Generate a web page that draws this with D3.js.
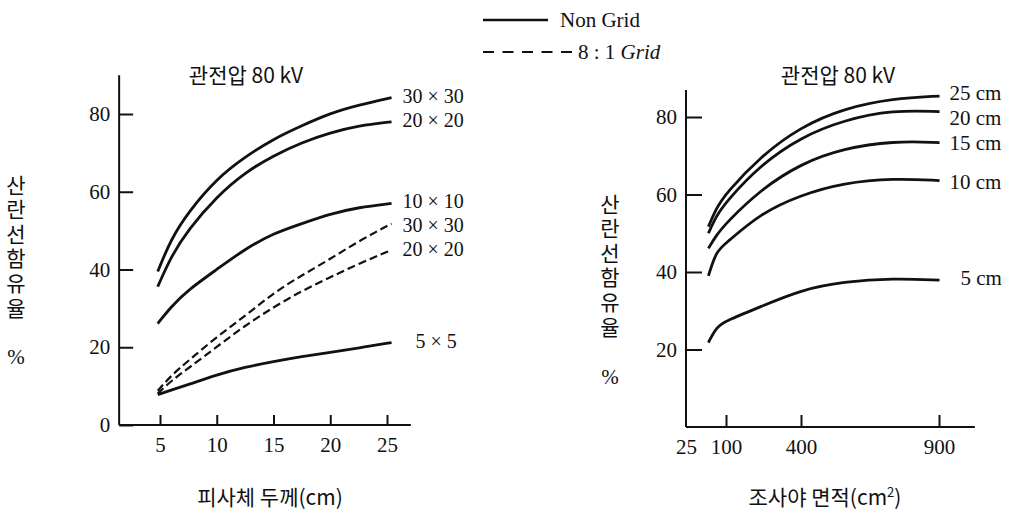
<!DOCTYPE html>
<html>
<head>
<meta charset="utf-8">
<script src="https://cdn.jsdelivr.net/npm/d3@7"></script>
<style>
body { margin: 0; background: #fff; }
text { font-family: "Liberation Serif", "Times New Roman", serif; fill: #111; }
.kr { font-family: "Noto Sans CJK KR", sans-serif; }
</style>
</head>
<body>
<svg id="chart" width="1009" height="511"></svg>
<script>
// left panel: scatter content vs phantom thickness (cm)
var thickness = [4.8, 6, 7.5, 10, 12.5, 15, 17.5, 20, 22.5, 25.4];
var solid30 = [39.5, 48, 54.8, 63.4, 69, 73.6, 77, 80.2, 82.3, 84.2];
var solid20 = [35.6, 43.5, 50.3, 58.8, 65, 69.3, 72.7, 75.2, 77, 78];
var solid10 = [26.1, 30.5, 34.8, 40, 45.3, 49.3, 51.8, 54.3, 56, 57];
var grid30 = [8.8, 12.8, 16.5, 22.7, 28, 34, 38.5, 42.7, 47.3, 51.8];
var grid20 = [8.1, 11.4, 14.6, 20.1, 25.6, 30.3, 34.5, 38, 41.5, 45];
var solid5 = [7.8, 9, 10.4, 12.9, 14.9, 16.3, 17.6, 18.7, 19.8, 21.2];
var leftLabels = ["30 × 30", "20 × 20", "10 × 10", "30 × 30", "20 × 20", "5 × 5"];
var leftXTicks = [5, 10, 15, 20, 25];
var leftYTicks = [0, 20, 40, 60, 80];

// right panel: scatter content vs field area (cm2), by thickness
var fieldArea = [67, 82, 100, 237, 400, 554, 734, 902];
var depth25 = [51.7, 56.5, 60.3, 69.8, 77.5, 82.2, 84.8, 85.4];
var depth20 = [50, 54.5, 58.1, 67.6, 74.8, 79.2, 81.8, 81.4];
var depth15 = [46.1, 49.5, 52.6, 61.2, 68, 71.9, 73.8, 73.4];
var depth10 = [39, 45.5, 47.4, 55.1, 59.9, 63, 64.2, 63.6];
var depth5 = [21.8, 25.8, 27.4, 31, 35.4, 37.5, 38.4, 37.9];
var rightLabels = ["25 cm", "20 cm", "15 cm", "10 cm", "5 cm"];
var rightXTicks = [25, 100, 400, 900];
var rightYTicks = [20, 40, 60, 80];

var yTitle = "산란선함유율";

var svg = d3.select("#chart");

var line = d3.line()
    .curve(d3.curveBasis);

// ---------- left panel ----------
var xL = d3.scaleLinear().domain([5, 25]).range([160, 387]);
var yL = d3.scaleLinear().domain([0, 80]).range([425, 114]);

var left = svg.append("g");

left.append("line")
    .attr("x1", xL(1.4)).attr("x2", xL(1.4))
    .attr("y1", yL(90)).attr("y2", yL(0))
    .attr("stroke", "#111").attr("stroke-width", 2);
left.append("line")
    .attr("x1", xL(1.4)).attr("x2", xL(27.1))
    .attr("y1", yL(0)).attr("y2", yL(0))
    .attr("stroke", "#111").attr("stroke-width", 2);

var lyAxis = left.append("g")
    .attr("transform", "translate(" + xL(1.4) + ",0)")
    .call(d3.axisLeft(yL).tickValues(leftYTicks).tickSizeInner(-14).tickSizeOuter(0).tickPadding(9));
var lxAxis = left.append("g")
    .attr("transform", "translate(0," + yL(0) + ")")
    .call(d3.axisBottom(xL).tickValues(leftXTicks).tickSizeInner(-10).tickSizeOuter(0).tickPadding(12));

var leftSeries = [solid30, solid20, solid10, grid30, grid20, solid5];
var leftDashed = [false, false, false, true, true, false];
var leftNudge = [-1.3, -2, -2.4, 1, -1, -2];

leftSeries.forEach(function(vals, i) {
    var pts = thickness.map(function(t, j) { return [xL(t), yL(vals[j])]; });
    left.append("path")
        .attr("d", line(pts))
        .attr("fill", "none")
        .attr("stroke", "#111")
        .attr("stroke-width", leftDashed[i] ? 2.2 : 2.8)
        .attr("stroke-dasharray", leftDashed[i] ? "8,4" : null);
    left.append("text")
        .attr("x", xL(thickness[thickness.length - 1]) + (i == 5 ? 24 : 11))
        .attr("y", yL(vals[vals.length - 1]) + leftNudge[i])
        .attr("dy", "0.35em")
        .style("font-size", "20px")
        .text(leftLabels[i]);
});

left.append("text")
    .attr("class", "kr")
    .attr("x", 246).attr("y", 83)
    .attr("text-anchor", "middle")
    .style("font-size", "21px")
    .text("관전압 80 kV");

left.append("text")
    .attr("class", "kr")
    .attr("x", 270).attr("y", 505)
    .attr("text-anchor", "middle")
    .style("font-size", "21px")
    .text("피사체 두께(cm)");

// ---------- right panel ----------
var xR = d3.scaleLinear().domain([25, 100, 400, 900]).range([686, 726, 801, 939]);
var yR = d3.scaleLinear().domain([0, 80]).range([427, 117]);

var right = svg.append("g");

right.append("line")
    .attr("x1", xR(25)).attr("x2", xR(25))
    .attr("y1", yR(87)).attr("y2", yR(0))
    .attr("stroke", "#111").attr("stroke-width", 2);
right.append("line")
    .attr("x1", xR(25)).attr("x2", xR(1030))
    .attr("y1", yR(0)).attr("y2", yR(0))
    .attr("stroke", "#111").attr("stroke-width", 2);

var ryAxis = right.append("g")
    .attr("transform", "translate(" + xR(25) + ",0)")
    .call(d3.axisLeft(yR).tickValues(rightYTicks).tickSizeInner(-16).tickSizeOuter(0).tickPadding(9));
var rxAxis = right.append("g")
    .attr("transform", "translate(0," + yR(0) + ")")
    .call(d3.axisBottom(xR).tickValues(rightXTicks).tickSizeInner(-12).tickSizeOuter(0).tickPadding(12));

var rightSeries = [depth25, depth20, depth15, depth10, depth5];
var rightNudge = [-3, 6, 0, 1, -2];

rightSeries.forEach(function(vals, i) {
    var pts = fieldArea.map(function(a, j) { return [xR(a), yR(vals[j])]; });
    right.append("path")
        .attr("d", line(pts))
        .attr("fill", "none")
        .attr("stroke", "#111")
        .attr("stroke-width", 2.8);
    right.append("text")
        .attr("x", xR(fieldArea[fieldArea.length - 1]) + (i == 4 ? 21 : 10))
        .attr("y", yR(vals[vals.length - 1]) + rightNudge[i])
        .attr("dy", "0.35em")
        .style("font-size", "21px")
        .text(rightLabels[i]);
});

right.append("text")
    .attr("class", "kr")
    .attr("x", 838).attr("y", 83)
    .attr("text-anchor", "middle")
    .style("font-size", "21px")
    .text("관전압 80 kV");

var xTitleR = right.append("text")
    .attr("class", "kr")
    .attr("x", 825).attr("y", 505)
    .attr("text-anchor", "middle")
    .style("font-size", "21px");
xTitleR.append("tspan").text("조사야 면적(cm");
xTitleR.append("tspan").attr("dy", -8).style("font-size", "13px").text("2");
xTitleR.append("tspan").attr("dy", 8).text(")");

// axis styling shared by both panels
[lyAxis, lxAxis, ryAxis, rxAxis].forEach(function(ax) {
    ax.select(".domain").remove();
    ax.selectAll(".tick line").attr("stroke", "#111").attr("stroke-width", 2);
    ax.selectAll(".tick text")
        .style("font-family", "'Liberation Serif', serif")
        .style("font-size", "21px")
        .attr("fill", "#111");
});
rxAxis.selectAll(".tick").filter(function(d) { return d == 25; }).select("line").remove();

// vertical y titles (stacked hangul) with % below
function drawYTitle(x, cy, pctY) {
    svg.append("text")
        .attr("class", "kr")
        .attr("x", x).attr("y", cy)
        .attr("text-anchor", "middle")
        .style("writing-mode", "vertical-rl")
        .style("text-orientation", "upright")
        .style("letter-spacing", "3.6px")
        .style("font-size", "21px")
        .text(yTitle);
    svg.append("text")
        .attr("x", x).attr("y", pctY)
        .attr("text-anchor", "middle")
        .attr("dy", "0.35em")
        .style("font-size", "21px")
        .text("%");
}
drawYTitle(16, 248, 357);
drawYTitle(610, 267, 377);

// legend
var legend = svg.append("g");
legend.append("line")
    .attr("x1", 483).attr("x2", 548).attr("y1", 20).attr("y2", 20)
    .attr("stroke", "#111").attr("stroke-width", 2.5);
legend.append("text")
    .attr("x", 560).attr("y", 20).attr("dy", "0.35em")
    .style("font-size", "21px")
    .text("Non Grid");
legend.append("line")
    .attr("x1", 483).attr("x2", 572).attr("y1", 52).attr("y2", 52)
    .attr("stroke", "#111").attr("stroke-width", 2)
    .attr("stroke-dasharray", "11,8.5");
var lg = legend.append("text")
    .attr("x", 578).attr("y", 52).attr("dy", "0.35em")
    .style("font-size", "21px");
lg.append("tspan").text("8 : 1 ");
lg.append("tspan").style("font-style", "italic").text("Grid");
</script>
</body>
</html>
